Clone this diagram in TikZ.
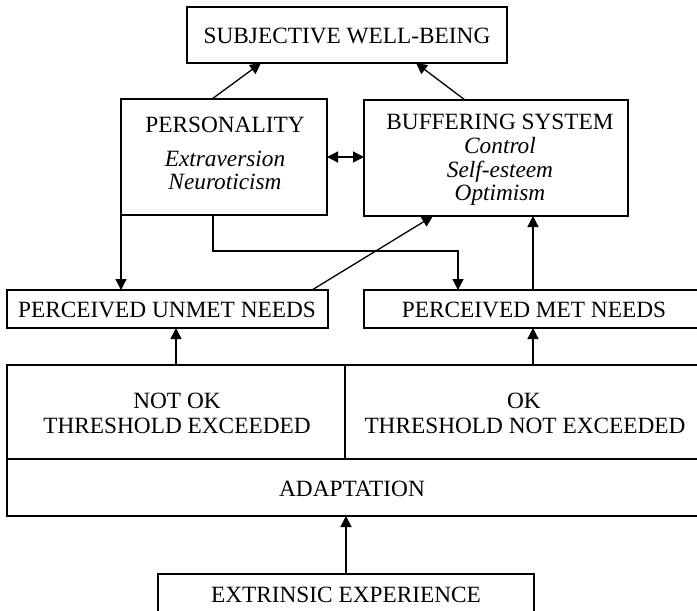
\documentclass[tikz,border=0pt]{standalone}
\usepackage{fontspec}
\setmainfont{Liberation Serif}
\usetikzlibrary{arrows.meta}
\begin{document}
\begin{tikzpicture}[x=1pt,y=-1pt,
 box/.style={draw, line width=1.3pt, inner sep=0pt, outer sep=0pt},
 lbl/.style={anchor=base, inner sep=0pt, font=\fontsize{23.3}{24}\selectfont},
 ilbl/.style={anchor=base, inner sep=0pt, font=\fontsize{23.3}{24}\selectfont\itshape},
 arr/.style={line width=1.3pt, -{Triangle[length=11pt,width=11pt]}},
 darr/.style={line width=1.3pt, {Triangle[length=11pt,width=11pt]}-{Triangle[length=11pt,width=11pt]}}]
\useasboundingbox (0,0) rectangle (697,611);
\clip (0,0) rectangle (697,611);
% boxes
\node[box, minimum width=320pt, minimum height=56pt] (swb) at (347,35) {};
\node[box, minimum width=206pt, minimum height=116pt] (pers) at (224,157) {};
\node[box, minimum width=264pt, minimum height=116pt] (buf) at (496,158) {};
\node[box, minimum width=321pt, minimum height=38pt] (unmet) at (167.5,309) {};
\node[box, minimum width=335pt, minimum height=38pt] (met) at (531.5,309) {};
\node[box, minimum width=338pt, minimum height=94pt] (notok) at (176,412) {};
\node[box, minimum width=354pt, minimum height=94pt] (ok) at (522,412) {};
\node[box, minimum width=692pt, minimum height=57pt] (adapt) at (353,487.5) {};
\node[box, minimum width=376pt, minimum height=41pt] (ext) at (346,594.5) {};
% labels
\node[lbl] (swbt) at (347,43) {SUBJECTIVE WELL-BEING};
\node[lbl] (perst1) at (225,132) {PERSONALITY};
\node[ilbl] (perst2) at (225,166) {Extraversion};
\node[ilbl] (perst3) at (225,189) {Neuroticism};
\node[lbl] (buft1) at (500,129) {BUFFERING SYSTEM};
\node[ilbl] (buft2) at (500,153) {Control};
\node[ilbl] (buft3) at (500,177) {Self-esteem};
\node[ilbl] (buft4) at (500,200) {Optimism};
\node[lbl] (unmett) at (167,317) {PERCEIVED UNMET NEEDS};
\node[lbl] (mett) at (534,317) {PERCEIVED MET NEEDS};
\node[lbl] (notokt1) at (177,408) {NOT OK};
\node[lbl] (notokt2) at (177,433) {THRESHOLD EXCEEDED};
\node[lbl] (okt1) at (524,408) {OK};
\node[lbl] (okt2) at (525,433) {THRESHOLD NOT EXCEEDED};
\node[lbl] (adaptt) at (352,496) {ADAPTATION};
\node[lbl] (extt) at (346,602) {EXTRINSIC EXPERIENCE};
% connectors
\draw[arr] ([xshift=-12pt]pers.north) -- ([xshift=-86pt]swb.south);
\draw[arr] ([xshift=-31pt]buf.north) -- ([xshift=69pt]swb.south);
\draw[darr] (pers.east) -- (pers.east -| buf.west);
\draw[arr] (pers.south west) -- (pers.south west |- unmet.north);
\draw[arr] ([xshift=-11pt]pers.south) -- ++(0,36) -| ([xshift=-73.5pt]met.north);
\draw[arr] ([xshift=144.5pt]unmet.north) -- ([xshift=-63pt]buf.south);
\draw[arr] ([xshift=1.5pt]met.north) -- ([xshift=37pt]buf.south);
\draw[arr] (notok.north) -- ([xshift=8.5pt]unmet.south);
\draw[arr] ([xshift=11pt]ok.north) -- ([xshift=1.5pt]met.south);
\draw[arr] (ext.north) -- (ext.north |- adapt.south);
\end{tikzpicture}
\end{document}
